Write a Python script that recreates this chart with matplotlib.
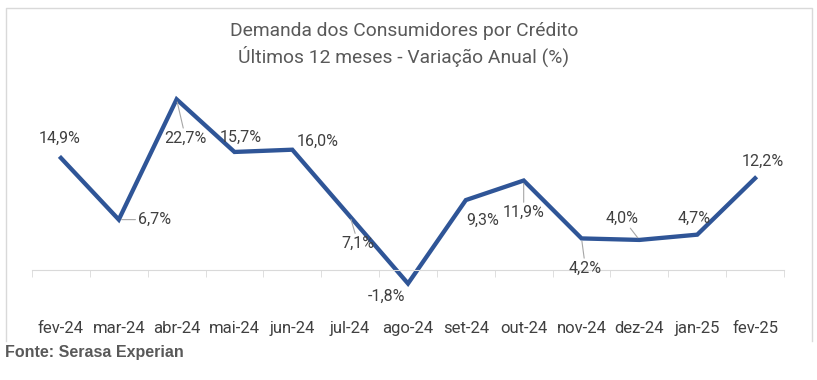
import matplotlib.pyplot as plt
from matplotlib.lines import Line2D

plt.rcParams['font.family'] = ['Roboto', 'DejaVu Sans']

meses = ["fev-24", "mar-24", "abr-24", "mai-24", "jun-24", "jul-24", "ago-24",
         "set-24", "out-24", "nov-24", "dez-24", "jan-25", "fev-25"]
variacao = [14.9, 6.7, 22.7, 15.7, 16.0, 7.1, -1.8, 9.3, 11.9, 4.2, 4.0, 4.7, 12.2]

# label offsets in pixels (dx, dy) and whether a leader line is drawn
offsets = [(-1, 20), (36, 0), (9, -39), (6, 15), (25, 8), (8, -27), (-21, -13),
           (17, -20), (0, -32), (4, -30), (-17, 22), (-3, 16), (8, 17)]
leader = [False, True, True, False, False, True, False,
          False, True, True, True, False, False]

W, H = 817, 380
fig = plt.figure(figsize=(W / 100, H / 100), dpi=100)
ax = fig.add_axes([32 / W, (H - 270) / H, (784 - 32) / W, 200 / H])

x = list(range(len(meses)))
ax.plot(x, variacao, color="#2F5597", lw=3.1, clip_on=False, solid_joinstyle="miter")
ax.set_xlim(-0.5, 12.5)
ax.set_ylim(0, 26.6)

for s in ["top", "left", "right"]:
    ax.spines[s].set_visible(False)
ax.spines["bottom"].set_color("#D9D9D9")
ax.set_yticks([])
ax.set_xticks(x)
ax.set_xticklabels(meses, color="#404040", fontsize=12)
ax.tick_params(axis="x", which="major", length=0, pad=37)
ax.set_xticks([i - 0.5 for i in range(len(meses) + 1)], minor=True)
ax.tick_params(axis="x", which="minor", length=5, color="#D9D9D9")

for i, v in enumerate(variacao):
    lbl = f"{v:.1f}%".replace(".", ",")
    kw = {}
    if leader[i]:
        kw["arrowprops"] = dict(arrowstyle="-", color="#A6A6A6", lw=0.8,
                                shrinkA=0, shrinkB=2)
    ax.annotate(lbl, (i, v), xytext=offsets[i], textcoords="offset pixels",
                ha="center", va="center", fontsize=11.5, color="#404040",
                annotation_clip=False, **kw)

fig.text(404 / W, 1 - 31 / H, "Demanda dos Consumidores por Crédito",
         ha="center", va="center", fontsize=13.9, color="#595959")
fig.text(404 / W, 1 - 56 / H, "Últimos 12 meses - Variação Anual (%)",
         ha="center", va="center", fontsize=13.9, color="#595959")

# chart border (open at the bottom)
bx = [6 / W, 6 / W, 812 / W, 812 / W]
by = [1 - 341 / H, 1 - 8 / H, 1 - 8 / H, 1 - 341 / H]
fig.lines.append(Line2D(bx, by, transform=fig.transFigure, color="#D9D9D9", lw=1))

fig.text(5 / W, 1 - 352 / H, "Fonte: Serasa Experian", ha="left", va="center",
         fontsize=11.5, fontweight="bold", color="#595959",
         family=["Liberation Sans", "DejaVu Sans"])

fig.savefig("out.png", dpi=100)
